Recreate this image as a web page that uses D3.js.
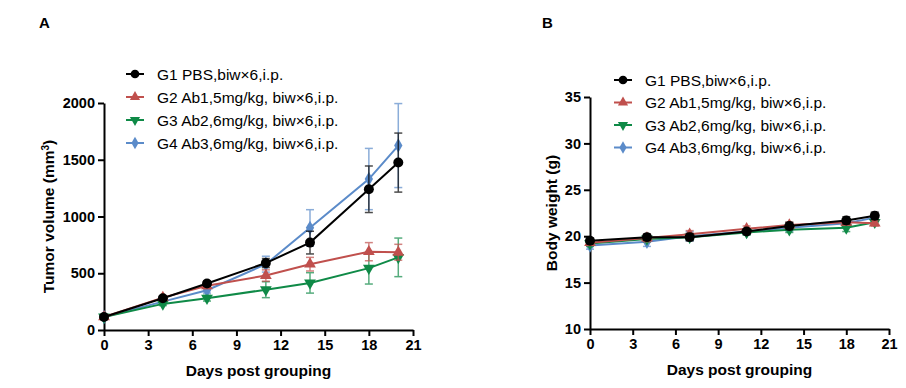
<!DOCTYPE html>
<html>
<head>
<meta charset="utf-8">
<script src="https://d3js.org/d3.v7.min.js"></script>
<style>
  body { margin: 0; background: #fff; }
  text { font-family: "Liberation Sans", Arial, sans-serif; fill: #000; }
  .axis path, .axis line { stroke: #000; stroke-width: 2px; }
  .axis text { font-size: 14.5px; font-weight: bold; font-family: "Liberation Sans", Arial, sans-serif; }
</style>
</head>
<body>
<svg id="chart" width="906" height="388"></svg>
<script>
const days = [0, 4, 7, 11, 14, 18, 20];
const groups = ["G1 PBS,biw\u00d76,i.p.", "G2 Ab1,5mg/kg, biw\u00d76,i.p.", "G3 Ab2,6mg/kg, biw\u00d76,i.p.", "G4 Ab3,6mg/kg, biw\u00d76,i.p."];
const colors = ["#000000", "#c0504d", "#0f8a47", "#5b8bc9"];
const symbols = [d3.symbolCircle, d3.symbolTriangle, "down", d3.symbolDiamond];

// tumor volume (mm3), mean and error
const tvG1 = [115, 280, 410, 590, 770, 1240, 1475];
const tvG1err = [12, 18, 22, 40, 100, 205, 260];
const tvG2 = [115, 285, 390, 480, 580, 690, 685];
const tvG2err = [12, 15, 25, 50, 60, 80, 70];
const tvG3 = [115, 230, 280, 355, 415, 545, 640];
const tvG3err = [12, 15, 25, 70, 90, 140, 170];
const tvG4 = [115, 250, 350, 580, 900, 1330, 1625];
const tvG4err = [12, 15, 25, 70, 160, 270, 370];

// body weight (g)
const bwG1 = [19.5, 19.9, 19.9, 20.5, 21.1, 21.7, 22.2];
const bwG1err = [0.3, 0.3, 0.4, 0.3, 0.4, 0.4, 0.4];
const bwG2 = [19.3, 19.8, 20.2, 20.8, 21.2, 21.5, 21.4];
const bwG2err = [0.3, 0.4, 0.4, 0.3, 0.3, 0.3, 0.3];
const bwG3 = [19.2, 19.7, 19.9, 20.4, 20.7, 20.9, 21.5];
const bwG3err = [0.3, 0.3, 0.3, 0.3, 0.3, 0.4, 0.3];
const bwG4 = [19.0, 19.4, 20.0, 20.5, 20.9, 21.4, 22.0];
const bwG4err = [0.4, 0.5, 0.5, 0.3, 0.4, 0.4, 0.4];

const xTicks = [0, 3, 6, 9, 12, 15, 18, 21];

const svg = d3.select("#chart");

function symbolPath(s, size) {
  if (s === "down") return d3.symbol(d3.symbolTriangle, size)();
  return d3.symbol(s, size)();
}

function drawPanel(opt) {
  const g = svg.append("g");
  const x = d3.scaleLinear().domain([0, 21]).range([opt.left, opt.right]);
  const y = d3.scaleLinear().domain(opt.yDomain).range([opt.bottom, opt.top]);

  g.append("g").attr("class", "axis")
    .attr("transform", "translate(0," + opt.bottom + ")")
    .call(d3.axisBottom(x).tickValues(xTicks).tickFormat(d3.format("d")).tickSize(6).tickSizeOuter(0).tickPadding(4));
  g.append("g").attr("class", "axis")
    .attr("transform", "translate(" + opt.left + ",0)")
    .call(d3.axisLeft(y).tickValues(opt.yTicks).tickFormat(d3.format("d")).tickSize(6).tickSizeOuter(0).tickPadding(3));

  // series, drawn so G1 ends on top
  for (let k = opt.series.length - 1; k >= 0; k--) {
    const vals = opt.series[k], errs = opt.errors[k], col = colors[k];
    const pts = days.map((d, i) => ({ d: d, v: vals[i], e: errs[i] }));
    const sg = g.append("g");
    const eb = sg.append("g").attr("stroke", col).attr("stroke-width", 1.5).attr("opacity", 0.7);
    pts.forEach(p => {
      eb.append("line").attr("x1", x(p.d)).attr("x2", x(p.d)).attr("y1", y(p.v - p.e)).attr("y2", y(p.v + p.e));
      eb.append("line").attr("x1", x(p.d) - 4).attr("x2", x(p.d) + 4).attr("y1", y(p.v - p.e)).attr("y2", y(p.v - p.e));
      eb.append("line").attr("x1", x(p.d) - 4).attr("x2", x(p.d) + 4).attr("y1", y(p.v + p.e)).attr("y2", y(p.v + p.e));
    });
    sg.append("path").datum(pts)
      .attr("fill", "none").attr("stroke", col).attr("stroke-width", 2)
      .attr("d", d3.line().x(p => x(p.d)).y(p => y(p.v)));
    sg.selectAll("path.mk").data(pts).join("path")
      .attr("class", "mk")
      .attr("fill", col)
      .attr("d", symbolPath(symbols[k], k === 0 ? 78 : 60))
      .attr("transform", p => "translate(" + x(p.d) + "," + y(p.v) + ")" + (symbols[k] === "down" ? " rotate(180)" : ""));
  }

  // legend
  groups.forEach((name, k) => {
    const ly = opt.legY + k * opt.legStep;
    const lg = g.append("g").attr("transform", "translate(" + opt.legX + "," + ly + ")");
    lg.append("line").attr("x1", -9).attr("x2", 9).attr("stroke", colors[k]).attr("stroke-width", 2);
    lg.append("path").attr("fill", colors[k])
      .attr("d", symbolPath(symbols[k], k === 0 ? 60 : 45))
      .attr("transform", symbols[k] === "down" ? "rotate(180)" : null);
    lg.append("text").attr("x", 22).attr("y", 5.5).style("font-size", "15.5px").text(name);
  });

  // axis titles
  svg.append("text")
    .attr("x", (opt.left + opt.right) / 2).attr("y", opt.bottom + 46)
    .attr("text-anchor", "middle").style("font-size", "15.5px").style("font-weight", "bold")
    .text("Days post grouping");
  const yt = svg.append("text")
    .attr("transform", "translate(" + opt.yTitleX + "," + ((opt.top + opt.bottom) / 2) + ") rotate(-90)")
    .attr("text-anchor", "middle").style("font-size", "15.5px").style("font-weight", "bold");
  opt.yTitle(yt);

  svg.append("text").attr("x", opt.tagX).attr("y", 28)
    .style("font-size", "15px").style("font-weight", "bold").text(opt.tag);
}

drawPanel({
  left: 104, right: 413, top: 103, bottom: 330,
  yDomain: [0, 2000], yTicks: [0, 500, 1000, 1500, 2000],
  series: [tvG1, tvG2, tvG3, tvG4], errors: [tvG1err, tvG2err, tvG3err, tvG4err],
  legX: 135, legY: 74, legStep: 23,
  yTitleX: 54,
  yTitle: t => {
    t.append("tspan").text("Tumor volume (mm");
    t.append("tspan").attr("baseline-shift", "super").style("font-size", "10px").text("3");
    t.append("tspan").text(")");
  },
  tag: "A", tagX: 39
});

drawPanel({
  left: 590, right: 889, top: 97, bottom: 329,
  yDomain: [10, 35], yTicks: [10, 15, 20, 25, 30, 35],
  series: [bwG1, bwG2, bwG3, bwG4], errors: [bwG1err, bwG2err, bwG3err, bwG4err],
  legX: 623, legY: 80, legStep: 22.5,
  yTitleX: 557,
  yTitle: t => t.text("Body weight (g)"),
  tag: "B", tagX: 542
});
</script>
</body>
</html>
